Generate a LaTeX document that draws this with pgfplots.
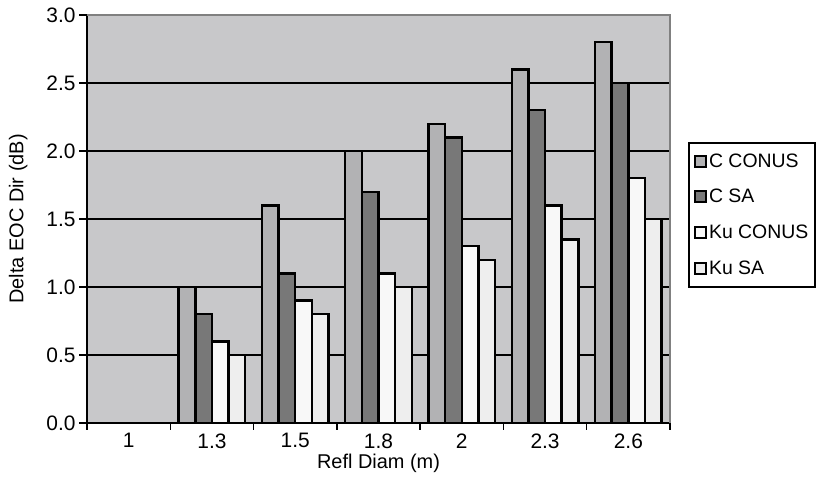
\documentclass[border=0pt]{standalone}
\usepackage{pgfplots}
\pgfplotsset{compat=1.18}
\usepackage{fontspec}
\setmainfont{Liberation Sans}
\definecolor{bgc}{RGB}{200,200,202}
\definecolor{cc}{RGB}{178,178,180}
\definecolor{cs}{RGB}{120,120,120}
\definecolor{kc}{RGB}{248,248,248}
\definecolor{ks}{RGB}{238,238,238}
\begin{document}
\begin{tikzpicture}[x=1bp,y=1bp]
\useasboundingbox (0,0) rectangle (825,481);
\begin{axis}[
  at={(87bp,58bp)}, anchor=south west,
  scale only axis, width=583bp, height=408bp,
  ymin=0, ymax=3, ytick={0,0.5,...,3.0},
  xmin=-0.5, xmax=6.5,
  xtick={0,...,6}, xticklabels={1,1.3,1.5,1.8,2,2.3,2.6},
  major x tick style={draw=none},
  minor xtick={-0.5,0.5,...,6.5},
  minor x tick style={black, line width=1.5bp},
  minor tick length=7bp,
  major tick length=8bp,
  y tick style={black, line width=1.5bp},
  tick align=outside,
  axis x line*=bottom, axis y line*=left,
  axis line style={black, line width=2.5bp, -},
  ymajorgrids, major grid style={black, line width=2bp},
  axis background/.style={fill=bgc},
  yticklabel style={/pgf/number format/.cd, fixed, fixed zerofill, precision=1},
  /pgf/number format/assume math mode=true,
  tick label style={font=\fontsize{21}{23}\selectfont},
  xticklabel style={yshift=1bp},
  xlabel={Refl Diam (m)}, ylabel={Delta EOC Dir (dB)},
  label style={font=\fontsize{20}{22}\selectfont},
  xlabel style={yshift=1bp},
  ylabel style={yshift=12bp},
  ybar=0pt, bar width=0.2,
  every axis plot/.append style={draw=black, line width=2.5bp},
  legend style={at={(1.031,0.689)}, anchor=north west, draw=black, line width=2bp,
    font=\fontsize{19.5}{21}\selectfont, row sep=16.5bp, inner xsep=5bp, inner ysep=9bp, fill=white},
  legend cell align=left,
  legend image code/.code={\draw[#1, line width=2bp] (0bp,-5.5bp) rectangle (11bp,5.5bp);},
  clip=false,
]
\addplot[fill=cc] coordinates {(1,1.0) (2,1.6) (3,2.0) (4,2.2) (5,2.6) (6,2.8)};
\addplot[fill=cs] coordinates {(1,0.8) (2,1.1) (3,1.7) (4,2.1) (5,2.3) (6,2.5)};
\addplot[fill=kc] coordinates {(1,0.6) (2,0.9) (3,1.1) (4,1.3) (5,1.6) (6,1.8)};
\addplot[fill=ks] coordinates {(1,0.5) (2,0.8) (3,1.0) (4,1.2) (5,1.35) (6,1.5)};
\legend{C CONUS, C SA, Ku CONUS, Ku SA}
\draw[gray, line width=1.5bp] (rel axis cs:0,1) -- (rel axis cs:1,1) -- (rel axis cs:1,0);
\end{axis}
\end{tikzpicture}
\end{document}
